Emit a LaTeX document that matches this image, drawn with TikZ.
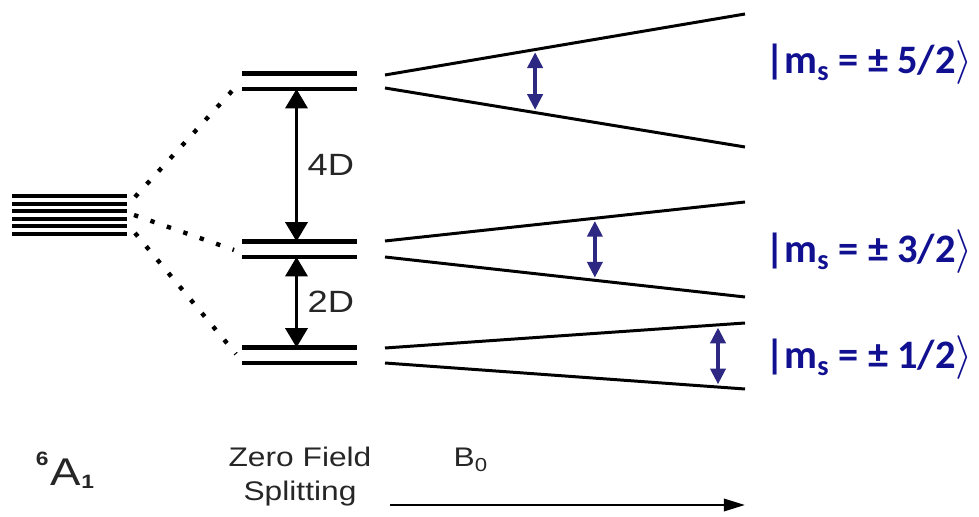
\documentclass[tikz,border=0pt]{standalone}
\usepackage{fontspec}
\setmainfont{Liberation Sans}
\newfontfamily\ketfont{Carlito}
\usepackage{tikz}
\usetikzlibrary{arrows.meta, calc, positioning}

\definecolor{ketblue}{RGB}{16,16,145}
\definecolor{eprblue}{RGB}{45,40,130}

\tikzset{
  level/.style={line width=2.3pt},
  zline/.style={line width=1.7pt},
  corr/.style={line width=2.5pt, dash pattern=on 2.5pt off 7.4pt},
  split/.style={line width=2pt, {Triangle[length=11pt,width=12.5pt]}-{Triangle[length=11pt,width=12.5pt]}},
  epr/.style={line width=2.6pt, draw=eprblue, shorten <=1.5pt, shorten >=1.5pt, {Triangle[length=9pt,width=8.5pt]}-{Triangle[length=9pt,width=8.5pt]}},
  lbl/.style={text=black!85, xscale=1.18, inner sep=0pt},
  ket/.style={text=ketblue, font=\ketfont\bfseries\fontsize{23}{27}\selectfont, inner sep=0pt, anchor=west}
}
\newcommand{\tinyidx}[1]{{\fontsize{11}{11}\selectfont\bfseries #1}}

\begin{document}
\begin{tikzpicture}
    \useasboundingbox (0,0) rectangle (19.58,10.34);

    % 6A1: six degenerate lines
    \foreach \i in {0,...,5}
        \draw[level] (0.24,{6.42-0.152*\i}) -- (2.54,{6.42-0.152*\i});
    \coordinate (gtop) at (2.70,6.40);
    \coordinate (gmid) at (2.68,6.04);
    \coordinate (gbot) at (2.70,5.68);

    % Zero field doublets
    \foreach \n/\y in {52/8.87, 32/5.51, 12/3.39} {
        \draw[level] (4.84,\y) -- (7.14,\y);
        \draw[level] (4.84,\y-0.31) -- (7.14,\y-0.31);
        \coordinate (t\n) at (5.93,\y);
        \coordinate (b\n) at (5.93,\y-0.31);
    }
    \coordinate (z52) at (4.64,8.52);
    \coordinate (z32) at (4.68,5.34);
    \coordinate (z12) at (4.72,3.26);

    % correlation lines
    \draw[corr] (gtop) -- (z52);
    \draw[corr] (gmid) -- (z32);
    \draw[corr] (gbot) -- (z12);

    % splittings
    \draw[split] (b52) -- (t32) node[lbl, midway, right=0.18cm, font=\fontsize{17.5}{20}\selectfont] (d4) {4D};
    \draw[split] (b32) -- (t12) node[lbl, midway, right=0.18cm, font=\fontsize{17.5}{20}\selectfont] (d2) {2D};

    % Zeeman lines
    \foreach \n/\ya/\yb/\yc/\yd in {52/8.84/10.06/8.58/7.40, 32/5.52/6.30/5.20/4.40, 12/3.38/3.88/3.08/2.56} {
        \coordinate (p\n) at (7.70,\ya);
        \coordinate (P\n) at (14.90,\yb);
        \coordinate (m\n) at (7.70,\yc);
        \coordinate (M\n) at (14.90,\yd);
        \draw[zline] (p\n) -- (P\n);
        \draw[zline] (m\n) -- (M\n);
    }

    % EPR transitions
    \foreach \n/\t in {52/0.417, 32/0.583, 12/0.925}
        \draw[epr] ($(p\n)!\t!(P\n)$) -- ($(m\n)!\t!(M\n)$);

    % kets
    \node[ket] (k52) at (15.30,9.08) {|m\textsubscript{s} = ± 5/2$\rangle$};
    \node[ket] (k32) at (15.30,5.30) {|m\textsubscript{s} = ± 3/2$\rangle$};
    \node[ket] (k12) at (15.30,3.18) {|m\textsubscript{s} = ± 1/2$\rangle$};

    % bottom labels
    \node[lbl, font=\fontsize{22}{24}\selectfont] (a1) at (1.30,0.94) {\raisebox{0.52em}{\tinyidx{6}}\kern0.04em A\kern0.01em\raisebox{-0.08em}{\tinyidx{1}}};
    \node[lbl, align=center, font=\fontsize{15.3}{19.3}\selectfont] (zfs) at (6.00,0.80) {Zero Field\\Splitting};
    \coordinate (bs) at (7.80,0.24);
    \coordinate (be) at (14.90,0.24);
    \draw[line width=1.4pt, -{Triangle[length=12pt,width=7pt]}] (bs) -- (be);
    \node[lbl, font=\fontsize{15.3}{18}\selectfont] (b0) at (9.42,1.14) {B\textsubscript{0}};
\end{tikzpicture}
\end{document}
